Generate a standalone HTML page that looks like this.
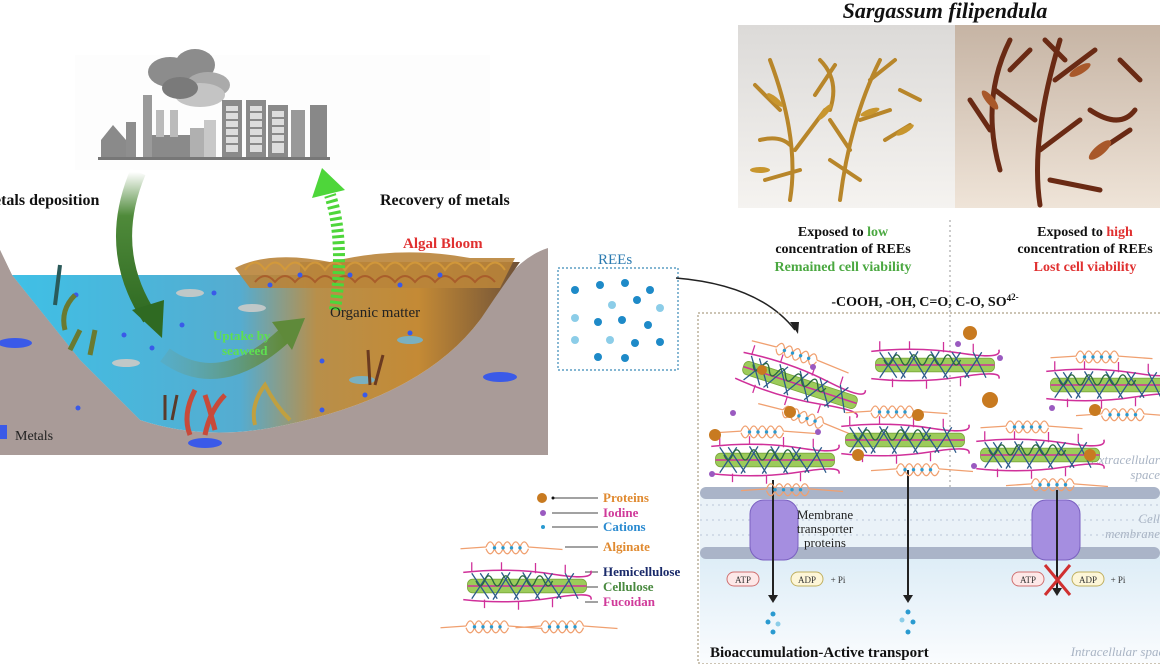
<!DOCTYPE html>
<html><head><meta charset="utf-8"><style>
html,body{margin:0;padding:0;background:#fff;}
svg{display:block;font-family:"Liberation Serif",serif;}
</style></head><body>
<svg width="1160" height="665" viewBox="0 0 1160 665" xmlns="http://www.w3.org/2000/svg">
<defs>
<linearGradient id="water" x1="0" x2="1" y1="0" y2="0">
<stop offset="0" stop-color="#3fc0e6"/><stop offset="0.45" stop-color="#55acd0"/><stop offset="0.6" stop-color="#b88f4a"/><stop offset="0.8" stop-color="#c48a35"/><stop offset="1" stop-color="#6e5138"/>
</linearGradient>
<linearGradient id="dg" x1="0" y1="0" x2="0" y2="1"><stop offset="0" stop-color="#fff"/><stop offset="0.3" stop-color="#4f8a3a"/><stop offset="1" stop-color="#2f6a22"/></linearGradient>
<linearGradient id="ug" x1="0" x2="1"><stop offset="0" stop-color="#6aa0a0" stop-opacity="0.3"/><stop offset="1" stop-color="#5f8a3a"/></linearGradient>
<linearGradient id="intra" x1="0" y1="0" x2="0" y2="1"><stop offset="0" stop-color="#d6e9f5"/><stop offset="1" stop-color="#fafcfe"/></linearGradient>
<linearGradient id="ph1" x1="0" y1="0" x2="0" y2="1"><stop offset="0" stop-color="#dcdad8"/><stop offset="1" stop-color="#f5f3f0"/></linearGradient>
<linearGradient id="ph2" x1="0" y1="0" x2="0" y2="1"><stop offset="0" stop-color="#c6b4a4"/><stop offset="1" stop-color="#efe4d8"/></linearGradient>
<g id="alg"><path d="M-40,0 q5,-12 10,0 q5,-12 10,0 q5,-12 10,0 q5,-12 10,0 q5,-12 10,0 M-70,2 L-40,0 M10,0 L50,3" fill="none" stroke="#f0a070" stroke-width="1.5"/><path d="M-40,2 q5,12 10,0 q5,12 10,0 q5,12 10,0 q5,12 10,0 q5,12 10,0" fill="none" stroke="#f0a070" stroke-width="1.5"/><circle cx="-30" cy="1" r="2" fill="#2a9ad0"/><circle cx="-20" cy="1" r="2" fill="#2a9ad0"/><circle cx="-10" cy="1" r="2" fill="#2a9ad0"/><circle cx="0" cy="1" r="2" fill="#2a9ad0"/></g>
<g id="fib">
<rect x="-70" y="-8" width="140" height="16" rx="6" fill="#9ccb5a" stroke="#7aa83a"/>
<path d="M-75,-16 Q-20,-22 30,-14 T75,-18 M-75,16 Q-20,22 30,14 T75,16 M-70,0 L70,0" fill="none" stroke="#d0309a" stroke-width="1.8"/>
<path d="M-65,-16v-12 M-30,-18v-10 M10,-15v-12 M45,-15v-10 M-50,16v10 M-10,18v10 M30,15v10" stroke="#d0309a" stroke-width="1.5"/>
<path d="M-65,-15 L-45,15 M-55,-15 L-35,15 M-45,-15 L-65,15 M-30,-16 L-10,16 M-20,-16 L-40,16 M-5,-16 L15,16 M5,-16 L-15,16 M20,-15 L40,15 M30,-15 L10,15 M45,-15 L60,15 M55,-15 L35,15" stroke="#2c5a8a" stroke-width="1.5"/>
<path d="M-60,-6 q5,12 10,0 q5,-12 10,0 q5,12 10,0 q5,-12 10,0 q5,12 10,0 q5,-12 10,0 q5,12 10,0 q5,-12 10,0 q5,12 10,0" fill="none" stroke="#2a6a40" stroke-width="1.6"/>
</g>
<g id="unit"><use href="#alg" y="-34"/><use href="#fib"/><use href="#alg" x="30" y="34"/></g>
</defs>

<rect x="75" y="55" width="415" height="115" fill="#fdfdfd"/>
<g fill="#9a9a9a">
<ellipse cx="170" cy="72" rx="22" ry="15" fill="#8c8c8c"/><ellipse cx="195" cy="65" rx="20" ry="16" fill="#8c8c8c"/><ellipse cx="208" cy="85" rx="22" ry="13" fill="#aaa"/><ellipse cx="200" cy="95" rx="25" ry="12" fill="#c4c4c4"/><ellipse cx="180" cy="88" rx="18" ry="11" fill="#7a7a7a"/>
<path d="M101,158 v-18 l12,-15 l13,15 v18z" fill="#8a8a8a"/><rect x="126" y="122" width="10" height="36" fill="#8e8e8e"/>
<rect x="143" y="95" width="9" height="63"/><rect x="152" y="135" width="38" height="23" fill="#8a8a8a"/><rect x="156" y="110" width="8" height="27" fill="#bbb"/><rect x="170" y="110" width="8" height="27" fill="#bbb"/>
<rect x="190" y="128" width="22" height="30" fill="#b0b0b0"/><rect x="204" y="120" width="12" height="38" fill="#c8c8c8"/>
<rect x="222" y="100" width="20" height="58" fill="#8a8a8a"/><rect x="246" y="100" width="20" height="58" fill="#8a8a8a"/><rect x="268" y="105" width="20" height="53" fill="#8a8a8a"/><rect x="291" y="110" width="14" height="48" fill="#999"/><rect x="310" y="105" width="17" height="53" fill="#888"/>
</g>
<g fill="#ddd"><rect x="226" y="106" width="12" height="46"/><rect x="250" y="106" width="12" height="46"/><rect x="272" y="111" width="12" height="42"/></g>
<g stroke="#8a8a8a" stroke-width="2"><path d="M226,112h12M226,120h12M226,128h12M226,136h12M226,144h12M250,112h12M250,120h12M250,128h12M250,136h12M250,144h12M272,118h12M272,126h12M272,134h12M272,142h12"/></g>
<rect x="98" y="157" width="232" height="3" fill="#777"/>

<path d="M0,250 L12,275 L80,360 L140,420 Q200,440 270,428 Q420,400 480,320 Q510,260 548,248 L548,455 L0,455Z" fill="#a99b98"/>
<path d="M12,275 L300,275 L300,262 L480,262 L520,262 Q500,290 480,320 Q420,400 270,428 Q200,440 140,420 L80,360Z" fill="url(#water)"/>
<path d="M235,268 Q270,250 330,262 Q400,245 470,258 L515,258 L500,288 L250,288Z" fill="#b9843a" opacity="0.9"/>
<g fill="none" stroke="#d49a3a" stroke-width="2" opacity="0.9"><path d="M245,270 q10,-15 20,0 q10,-15 20,0 q10,-15 20,0 q10,-15 20,0 q10,-15 20,0 q10,-15 20,0 q10,-15 20,0 q10,-15 20,0 q10,-15 20,0 q10,-15 20,0 q10,-15 20,0 q10,-15 20,0 q10,-15 20,0"/><path d="M255,282 q10,-12 20,0 q10,-12 20,0 q10,-12 20,0 q10,-12 20,0 q10,-12 20,0 q10,-12 20,0 q10,-12 20,0 q10,-12 20,0 q10,-12 20,0 q10,-12 20,0 q10,-12 20,0 q10,-12 20,0" stroke="#a85a2a"/></g>
<path d="M0,250 L12,275 L80,360 L140,420 L0,420Z" fill="#a99b98"/>
<g fill="#3a5ae8"><ellipse cx="15" cy="343" rx="17" ry="5"/><ellipse cx="205" cy="443" rx="17" ry="5"/><ellipse cx="500" cy="377" rx="17" ry="5"/><rect x="0" y="425" width="7" height="14"/></g>
<g fill="#3a5ae8"><circle cx="76" cy="295" r="2.5"/><circle cx="157" cy="325" r="2.5"/><circle cx="182" cy="325" r="2.5"/><circle cx="124" cy="335" r="2.5"/><circle cx="214" cy="293" r="2.5"/><circle cx="152" cy="348" r="2.5"/><circle cx="78" cy="408" r="2.5"/><circle cx="322" cy="361" r="2.5"/><circle cx="410" cy="333" r="2.5"/><circle cx="322" cy="410" r="2.5"/><circle cx="365" cy="395" r="2.5"/><circle cx="300" cy="275" r="2.5"/><circle cx="350" cy="275" r="2.5"/><circle cx="400" cy="285" r="2.5"/><circle cx="440" cy="275" r="2.5"/><circle cx="270" cy="285" r="2.5"/></g>
<g fill="#c0c8c8"><ellipse cx="190" cy="293" rx="14" ry="4"/><ellipse cx="252" cy="308" rx="14" ry="4"/><ellipse cx="126" cy="363" rx="14" ry="4"/><ellipse cx="410" cy="340" rx="13" ry="4" fill="#7ab0c0"/><ellipse cx="362" cy="380" rx="13" ry="4" fill="#7ab0c0"/></g>
<g fill="none" stroke-width="3"><path d="M165,420 l0,-25 M172,420 l5,-25" stroke="#5a3a2a"/><path d="M190,435 q-8,-20 5,-45 M205,435 q5,-25 20,-40 M215,430 q-5,-20 -10,-35" stroke="#c84a3a" stroke-width="5"/><path d="M255,425 q-5,-20 10,-40 q10,20 25,35" stroke="#c0a040" stroke-width="4"/><path d="M65,330 q-5,-20 10,-35 M70,350 l10,-20 M90,355 l5,-25" stroke="#6a7a30" stroke-width="5"/><path d="M55,305 l5,-40" stroke="#2a5a5a" stroke-width="4"/><path d="M370,385 l-2,-35 M375,385 l8,-30" stroke="#6a3a20"/></g>
<path d="M138,172 Q105,250 150,318" fill="none" stroke="url(#dg)" stroke-width="16"/>
<path d="M132,310 L162,338 L164,300Z" fill="#2f6a22"/>
<path d="M165,355 Q220,395 285,335" fill="none" stroke="url(#ug)" stroke-width="16"/>
<path d="M272,322 L305,318 L292,350Z" fill="#5f8a3a"/>
<path d="M335,310 Q345,240 330,195" fill="none" stroke="#4ed63a" stroke-width="12" stroke-dasharray="3,3"/>
<path d="M312,198 L322,168 L345,190Z" fill="#4ed63a"/>
<g font-weight="bold" font-size="16" fill="#111">
<text x="-6" y="205">etals deposition</text><text x="380" y="205">Recovery of metals</text></g>
<text x="403" y="248" font-weight="bold" font-size="15" fill="#e03030">Algal Bloom</text>
<text x="330" y="317" font-size="15" fill="#222">Organic matter</text>
<text x="213" y="340" font-weight="bold" font-size="13" fill="#5ee050">Uptake by</text>
<text x="222" y="355" font-weight="bold" font-size="13" fill="#5ee050">seaweed</text>
<text x="15" y="440" font-size="14" fill="#222">Metals</text>

<rect x="558" y="268" width="120" height="102" fill="#fff" stroke="#3a8ab8" stroke-width="1.2" stroke-dasharray="2,2"/>
<text x="598" y="264" font-size="15" fill="#2a7ab0">REEs</text>
<g fill="#1e8ac8"><circle cx="575" cy="290" r="4"/><circle cx="600" cy="285" r="4"/><circle cx="625" cy="283" r="4"/><circle cx="650" cy="290" r="4"/><circle cx="612" cy="305" r="4" fill="#8ccde8"/><circle cx="637" cy="300" r="4"/><circle cx="660" cy="308" r="4" fill="#8ccde8"/><circle cx="575" cy="318" r="4" fill="#8ccde8"/><circle cx="598" cy="322" r="4"/><circle cx="622" cy="320" r="4"/><circle cx="648" cy="325" r="4"/><circle cx="575" cy="340" r="4" fill="#8ccde8"/><circle cx="610" cy="340" r="4" fill="#8ccde8"/><circle cx="635" cy="343" r="4"/><circle cx="660" cy="342" r="4"/><circle cx="598" cy="357" r="4"/><circle cx="625" cy="358" r="4"/></g>
<path d="M676,278 Q760,285 795,330" fill="none" stroke="#222" stroke-width="1.5"/><path d="M790,322 l8,12 l1,-12z" fill="#222"/>

<text x="945" y="18" text-anchor="middle" font-style="italic" font-weight="bold" font-size="22" fill="#111">Sargassum filipendula</text>
<rect x="738" y="25" width="217" height="183" fill="url(#ph1)"/>
<rect x="955" y="25" width="205" height="183" fill="url(#ph2)"/>
<g fill="none" stroke="#b8862a" stroke-width="4" stroke-linecap="round"><path d="M790,200 Q800,140 770,60 M795,150 l30,-40 M780,110 l-25,-25 M800,170 l-35,10 M840,200 Q850,120 880,60 M860,120 l30,-10 M850,150 l-20,-30 M870,80 l25,-20 M820,60 q20,20 10,50 M760,140 q20,-5 30,5 M815,95 l20,-30 M830,160 l30,20 M885,140 l25,-15 M900,90 l20,10"/></g>
<g fill="#c8962e"><ellipse cx="775" cy="100" rx="10" ry="3" transform="rotate(40 775 100)"/><ellipse cx="825" cy="112" rx="10" ry="3" transform="rotate(-50 825 112)"/><ellipse cx="870" cy="112" rx="10" ry="3" transform="rotate(-20 870 112)"/><ellipse cx="760" cy="170" rx="10" ry="3"/><ellipse cx="905" cy="130" rx="10" ry="3" transform="rotate(-30 905 130)"/></g>
<g fill="none" stroke="#6a2a14" stroke-width="5" stroke-linecap="round"><path d="M1040,205 Q1030,140 1060,40 M1040,150 l40,-30 M1035,120 l-40,-30 M1055,80 l40,-30 M1000,170 Q980,100 1010,40 M1050,180 l50,10 M1090,110 q30,20 45,0 M990,130 l-20,-30 M1065,60 l-20,-20 M1010,70 l20,-20 M1100,150 l30,-20 M1120,60 l20,20"/></g>
<g fill="#a8582a"><ellipse cx="1100" cy="150" rx="14" ry="5" transform="rotate(-40 1100 150)"/><ellipse cx="1080" cy="70" rx="12" ry="4" transform="rotate(-30 1080 70)"/><ellipse cx="990" cy="100" rx="12" ry="4" transform="rotate(50 990 100)"/></g>

<g text-anchor="middle" font-weight="bold" font-size="14">
<text x="843" y="236" fill="#111">Exposed to <tspan fill="#4aa840">low</tspan></text>
<text x="843" y="253" fill="#111">concentration of REEs</text>
<text x="843" y="271" fill="#4aa840">Remained cell viability</text>
<text x="1085" y="236" fill="#111">Exposed to <tspan fill="#e03030">high</tspan></text>
<text x="1085" y="253" fill="#111">concentration of REEs</text>
<text x="1085" y="271" fill="#e03030">Lost cell viability</text>
<text x="925" y="306" fill="#111">-COOH, -OH, C=O, C-O, SO<tspan font-size="9" dy="-5">4</tspan><tspan font-size="9" dy="-1">2-</tspan></text>
</g>
<line x1="950" y1="220" x2="950" y2="665" stroke="#999" stroke-dasharray="2,3"/>

<rect x="698" y="313" width="470" height="350" fill="none" stroke="#9a8a6a" stroke-dasharray="2,2"/>
<rect x="700" y="530" width="460" height="133" fill="url(#intra)"/>
<rect x="700" y="493" width="460" height="60" fill="#eaf2f8"/>
<g stroke="#b9c6d8" stroke-width="1">
<path d="M700,505 H1160 M700,520 H1160 M700,535 H1160" stroke-dasharray="2,4"/></g>
<g fill="#aab4c8">
<rect x="700" y="487" width="460" height="12" rx="6"/><rect x="700" y="547" width="460" height="12" rx="6"/>
</g>
<g fill="#a58ee0" stroke="#7a60c0">
<rect x="750" y="500" width="48" height="60" rx="14"/><rect x="1032" y="500" width="48" height="60" rx="14"/></g>
<g stroke="#222" stroke-width="2"><line x1="773" y1="480" x2="773" y2="597"/><line x1="908" y1="470" x2="908" y2="597"/><line x1="1057" y1="490" x2="1057" y2="590"/></g>
<g fill="#222"><path d="M768,595 l5,8 l5,-8z"/><path d="M903,595 l5,8 l5,-8z"/><path d="M1052,588 l5,8 l5,-8z"/></g>
<text x="825" y="519" text-anchor="middle" font-size="13" fill="#222">Membrane</text>
<text x="825" y="533" text-anchor="middle" font-size="13" fill="#222">transporter</text>
<text x="825" y="547" text-anchor="middle" font-size="13" fill="#222">proteins</text>
<g font-size="9" text-anchor="middle" fill="#333">
<rect x="727" y="572" width="32" height="14" rx="7" fill="#fde8e8" stroke="#d07070"/><text x="743" y="583">ATP</text>
<rect x="791" y="572" width="32" height="14" rx="7" fill="#fdf6d8" stroke="#c0b060"/><text x="807" y="583">ADP</text><text x="838" y="583">+ Pi</text>
<rect x="1012" y="572" width="32" height="14" rx="7" fill="#fde8e8" stroke="#d07070"/><text x="1028" y="583">ATP</text>
<rect x="1072" y="572" width="32" height="14" rx="7" fill="#fdf6d8" stroke="#c0b060"/><text x="1088" y="583">ADP</text><text x="1118" y="583">+ Pi</text></g>
<path d="M1045,565 L1070,595 M1070,565 L1045,595" stroke="#d03030" stroke-width="3"/>
<g fill="#2a9ad0"><circle cx="773" cy="614" r="2.5"/><circle cx="768" cy="622" r="2.5"/><circle cx="778" cy="624" r="2.5" fill="#8ccde8"/><circle cx="773" cy="632" r="2.5"/><circle cx="908" cy="612" r="2.5"/><circle cx="902" cy="620" r="2.5" fill="#8ccde8"/><circle cx="913" cy="622" r="2.5"/><circle cx="908" cy="632" r="2.5"/></g>
<text x="710" y="657" font-weight="bold" font-size="15" fill="#111">Bioaccumulation-Active transport</text>
<g font-style="italic" font-size="13" fill="#a9b4c4" text-anchor="end"><text x="1160" y="464">Extracellular</text><text x="1160" y="479">space</text><text x="1160" y="523">Cell</text><text x="1160" y="538">membrane</text><text x="1170" y="656">Intracellular space</text></g>

<use href="#unit" transform="translate(800,385) rotate(18) scale(0.85)"/>
<use href="#unit" transform="translate(775,460) scale(0.85)"/>
<use href="#unit" transform="translate(905,440) scale(0.85)"/>
<use href="#fib" transform="translate(935,365) scale(0.85)"/>
<use href="#unit" transform="translate(1040,455) scale(0.85)"/>
<use href="#unit" transform="translate(1110,385) scale(0.85)"/>
<g fill="#c87a20"><circle cx="715" cy="435" r="6"/><circle cx="790" cy="412" r="6"/><circle cx="858" cy="455" r="6"/><circle cx="918" cy="415" r="6"/><circle cx="970" cy="333" r="7"/><circle cx="990" cy="400" r="8"/><circle cx="762" cy="370" r="5"/><circle cx="1090" cy="455" r="6"/><circle cx="1095" cy="410" r="6"/></g>
<g fill="#9a5ac0"><circle cx="733" cy="413" r="3"/><circle cx="818" cy="432" r="3"/><circle cx="712" cy="474" r="3"/><circle cx="813" cy="367" r="3"/><circle cx="958" cy="344" r="3"/><circle cx="1000" cy="358" r="3"/><circle cx="974" cy="466" r="3"/><circle cx="1052" cy="408" r="3"/></g>

<g font-weight="bold" font-size="13">
<circle cx="542" cy="498" r="5" fill="#c87a20"/><line x1="552" y1="498" x2="598" y2="498" stroke="#444"/><circle cx="553" cy="498" r="1.5" fill="#111"/><text x="603" y="502" fill="#e08a30">Proteins</text>
<circle cx="543" cy="513" r="3" fill="#9a5ac0"/><line x1="552" y1="513" x2="598" y2="513" stroke="#444"/><text x="603" y="517" fill="#d03a9a">Iodine</text>
<circle cx="543" cy="527" r="2" fill="#2a9ad0"/><line x1="552" y1="527" x2="598" y2="527" stroke="#444"/><text x="603" y="531" fill="#2a8ad0">Cations</text>
<line x1="565" y1="547" x2="598" y2="547" stroke="#444"/><text x="603" y="551" fill="#e08a30">Alginate</text>
<line x1="585" y1="572" x2="598" y2="572" stroke="#444"/><text x="603" y="576" fill="#1a2a6a">Hemicellulose</text>
<line x1="585" y1="587" x2="598" y2="587" stroke="#444"/><text x="603" y="591" fill="#4a8a40">Cellulose</text>
<line x1="585" y1="602" x2="598" y2="602" stroke="#444"/><text x="603" y="606" fill="#d03a9a">Fucoidan</text>
</g>
<use href="#alg" transform="translate(520,547) scale(0.85)"/>
<use href="#fib" transform="translate(527,586) scale(0.85)"/>
<use href="#alg" transform="translate(500,626) scale(0.85)"/>
<use href="#alg" transform="translate(575,626) scale(0.85)"/>
</svg>
</body></html>
